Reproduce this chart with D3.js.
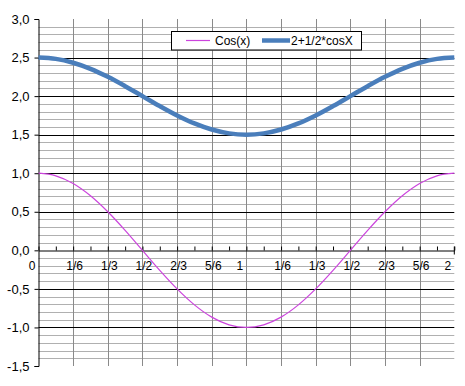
<!DOCTYPE html>
<html>
<head>
<meta charset="utf-8">
<script src="https://cdn.jsdelivr.net/npm/d3@7"></script>
<style>
  html, body { margin: 0; padding: 0; background: #fff; }
  svg { display: block; }
  text { font-family: "Liberation Sans", Arial, sans-serif; font-size: 12px; fill: #000; }
</style>
</head>
<body>
<svg id="chart" width="465" height="386"></svg>
<script>
// ---- data ----
const categories = ["0","","1/6","","1/3","","1/2","","2/3","","5/6","","1","","1/6","","1/3","","1/2","","2/3","","5/6","","2"];
const cosValues = [1, 0.966, 0.866, 0.707, 0.5, 0.259, 0, -0.259, -0.5, -0.707, -0.866, -0.966, -1,
                   -0.966, -0.866, -0.707, -0.5, -0.259, 0, 0.259, 0.5, 0.707, 0.866, 0.966, 1];
const shiftedValues = [2.5, 2.483, 2.433, 2.354, 2.25, 2.129, 2, 1.871, 1.75, 1.646, 1.567, 1.517, 1.5,
                       1.517, 1.567, 1.646, 1.75, 1.871, 2, 2.129, 2.25, 2.354, 2.433, 2.483, 2.5];
const yTicks = [3.0, 2.5, 2.0, 1.5, 1.0, 0.5, 0.0, -0.5, -1.0, -1.5];
const yTickLabels = ["3,0","2,5","2,0","1,5","1,0","0,5","0,0","-0,5","-1,0","-1,5"];
const seriesNames = ["Cos(x)", "2+1/2*cosX"];

// ---- layout ----
const svg = d3.select("#chart");
const pLeft = 38.5, pRight = 454.3, pTop = 19, pBottom = 366;
const x = d3.scaleLinear().domain([0, categories.length - 1]).range([pLeft, pRight]);
const y = d3.scaleLinear().domain([-1.5, 3.0]).range([pBottom, pTop]);

// minor horizontal gridlines (every 0.1, excluding multiples of 0.5)
const minor = d3.range(-14, 30).map(v => v / 10).filter(v => Math.abs(v * 2 - Math.round(v * 2)) > 1e-6);
svg.append("g").selectAll("line").data(minor).join("line")
  .attr("x1", pLeft).attr("x2", pRight)
  .attr("y1", d => Math.round(y(d)) + 0.5).attr("y2", d => Math.round(y(d)) + 0.5)
  .attr("stroke", "#b0b0b0").attr("stroke-width", 1);

// vertical gridlines every 2 categories
const vIdx = d3.range(2, categories.length - 1, 2);
svg.append("g").selectAll("line").data(vIdx).join("line")
  .attr("x1", d => Math.round(x(d)) + 0.5).attr("x2", d => Math.round(x(d)) + 0.5)
  .attr("y1", pTop).attr("y2", pBottom)
  .attr("stroke", "#8a8a8a").attr("stroke-width", 1);

// major horizontal gridlines
const major = yTicks.filter(v => v < 3 && v > -1.5 && v !== 0);
svg.append("g").selectAll("line").data(major).join("line")
  .attr("x1", pLeft).attr("x2", pRight)
  .attr("y1", d => Math.round(y(d)) + 0.5).attr("y2", d => Math.round(y(d)) + 0.5)
  .attr("stroke", "#000").attr("stroke-width", 1);

// y axis
const yAxis = d3.axisLeft(y).tickValues(yTicks)
  .tickFormat((d, i) => yTickLabels[i]).tickSize(4).tickPadding(5);
const gy = svg.append("g").attr("transform", `translate(${pLeft},0)`).call(yAxis);
gy.select(".domain").attr("stroke", "#000");
gy.selectAll(".tick line").attr("stroke", "#000");
gy.selectAll("text").style("font-size", "13px").attr("font-family", null);

// x axis at y=0
const xAxis = d3.axisBottom(x).tickValues(d3.range(categories.length))
  .tickFormat(i => categories[i]).tickSizeInner(-4).tickSizeOuter(0).tickPadding(11);
const gx = svg.append("g").attr("transform", `translate(0,${Math.round(y(0)) + 0.5})`).call(xAxis);
gx.select(".domain").attr("stroke", "#000");
gx.selectAll(".tick line").attr("stroke", "#000");
gx.selectAll("text").style("font-size", "12px").attr("font-family", null)
  .attr("dx", d => categories[d].length === 1 ? -7 : 1);
gx.append("line").attr("x1", pRight).attr("x2", pRight).attr("y1", -4).attr("y2", 4).attr("stroke", "#000");

// series lines
const lineGen = vals => d3.line().x((d, i) => x(i)).y(d => y(d)).curve(d3.curveMonotoneX)(vals);
svg.append("path").attr("d", lineGen(cosValues))
  .attr("fill", "none").attr("stroke", "#cc44dd").attr("stroke-width", 1.2);
svg.append("path").attr("d", lineGen(shiftedValues))
  .attr("fill", "none").attr("stroke", "#4a7ebb").attr("stroke-width", 4.5)
  .attr("stroke-linejoin", "round");

// legend
const lg = svg.append("g");
lg.append("rect").attr("x", 171.5).attr("y", 31.5).attr("width", 190).attr("height", 18.5)
  .attr("fill", "#fff").attr("stroke", "#000").attr("stroke-width", 1);
lg.append("line").attr("x1", 186).attr("x2", 210).attr("y1", 40.5).attr("y2", 40.5)
  .attr("stroke", "#cc44dd").attr("stroke-width", 1.2);
lg.append("text").attr("x", 215).attr("y", 45).text(seriesNames[0]);
lg.append("line").attr("x1", 262).attr("x2", 290).attr("y1", 40.5).attr("y2", 40.5)
  .attr("stroke", "#4a7ebb").attr("stroke-width", 4.5);
lg.append("text").attr("x", 291).attr("y", 45).text(seriesNames[1]);
</script>
</body>
</html>
